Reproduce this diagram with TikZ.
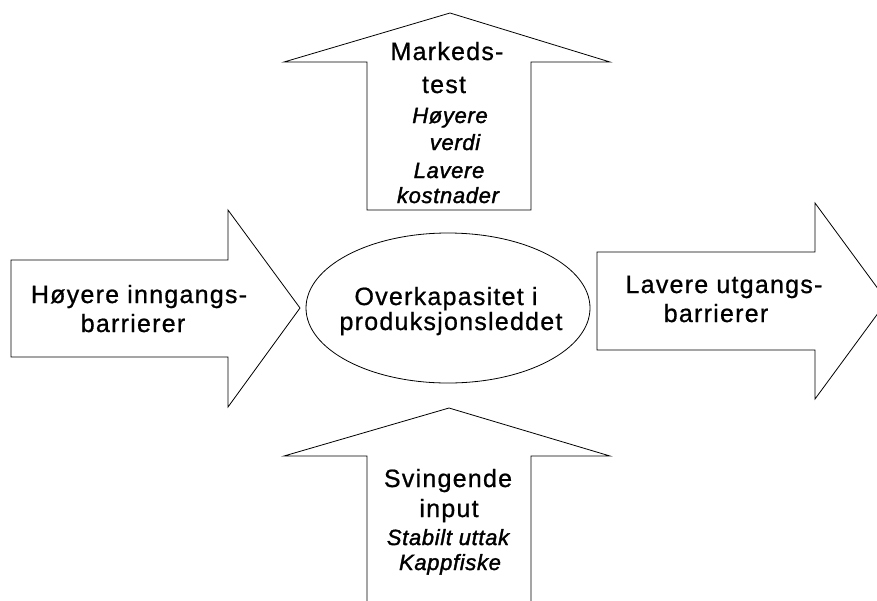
\documentclass[tikz,border=0pt]{standalone}
\usepackage{fontspec}
\setmainfont{Liberation Sans}[LetterSpace=5,FakeBold=0.8,ItalicFeatures={FakeBold=1.6,LetterSpace=3}]
\usetikzlibrary{shapes.geometric}
\begin{document}
\begin{tikzpicture}[x=1pt,y=-1pt,
  arrowshape/.style={draw=black,line width=0.8pt,fill=white,line join=miter},
  up/.style={font=\fontsize{25}{29}\selectfont,anchor=base,inner sep=0pt},
  it/.style={font=\fontsize{22}{25}\selectfont\itshape,anchor=base,inner sep=0pt}]
\useasboundingbox (0,0) rectangle (877,600);
\clip (0,0) rectangle (877,600);
% top arrow
\draw[arrowshape] (367,210) -- (367,62) -- (284,62) -- (450,13) -- (610,62) -- (531,62) -- (531,210) -- cycle;
% left arrow
\draw[arrowshape] (11,260) -- (228,260) -- (228,210) -- (300,308) -- (228,407) -- (228,357) -- (11,357) -- cycle;
% right arrow
\draw[arrowshape] (597,252) -- (815,252) -- (815,203) -- (887,301) -- (815,399) -- (815,350) -- (597,350) -- cycle;
% bottom arrow
\draw[arrowshape] (367,606) -- (367,456) -- (284,456) -- (449,408) -- (610,456) -- (531,456) -- (531,606);
% ellipse
\node[ellipse,draw=black,line width=0.8pt,minimum width=284pt,minimum height=150pt,inner sep=0pt] (core) at (448,308) {};
% texts
\node[up] (c1) at (446,305) {Overkapasitet i};
\node[up] (c2) at (451,330) {produksjonsleddet};
\node[up] (l1) at (139,303) {Høyere inngangs-};
\node[up] (l2) at (133,332) {barrierer};
\node[up] (r1) at (724,293) {Lavere utgangs-};
\node[up] (r2) at (716,322) {barrierer};
\node[up] (t1) at (447,60) {Markeds-};
\node[up] (t2) at (444,93) {test};
\node[it] (t3) at (450,123) {Høyere};
\node[it] (t4) at (455,150) {verdi};
\node[it] (t5) at (449,178) {Lavere};
\node[it] (t6) at (448,203) {kostnader};
\node[up] (b1) at (448,487) {Svingende};
\node[up] (b2) at (449,517) {input};
\node[it] (b3) at (448,545) {Stabilt uttak};
\node[it] (b4) at (450,570) {Kappfiske};
\end{tikzpicture}
\end{document}
